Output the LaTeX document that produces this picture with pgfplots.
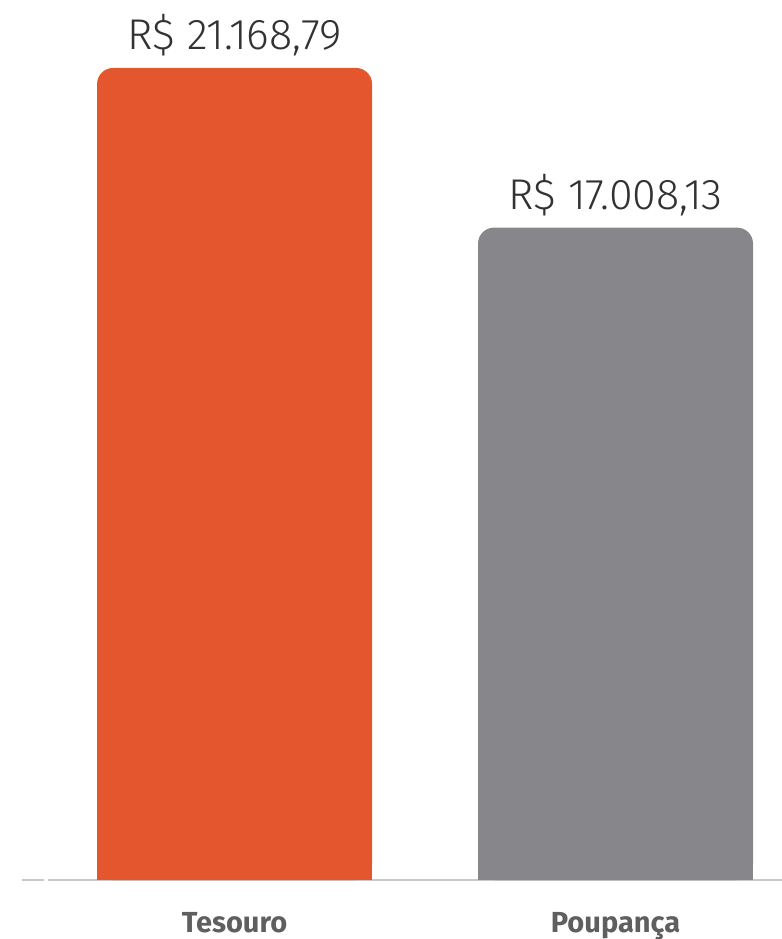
\documentclass[border=0pt]{standalone}
\usepackage{fontspec}
\setmainfont{Fira Sans}
\newfontfamily\lightfont{Fira Sans}[UprightFont=* Light]
\usepackage{pgfplots}
\pgfplotsset{compat=1.18}
\definecolor{tesouro}{RGB}{228,87,46}
\definecolor{poupanca}{RGB}{135,134,139}
\definecolor{valtxt}{RGB}{50,50,50}
\definecolor{cattxt}{RGB}{95,95,95}
\definecolor{baseln}{RGB}{200,200,200}

\begin{document}
\begin{tikzpicture}
  \begin{axis}[
    scale only axis,
    width=380pt, height=440pt,
    xmin=-0.558, xmax=1.437,
    ymin=0, ymax=22941,
    axis x line*=bottom,
    hide y axis,
    axis line style={draw=baseln, line width=1pt},
    xtick={0,1},
    xticklabels={Tesouro, Poupança},
    major tick length=0pt,
    xticklabel style={font=\bfseries\fontsize{14.5}{16}\selectfont, text=cattxt, anchor=base, yshift=-26pt},
    ybar, bar width=137.5pt, bar shift=0pt,
    point meta=explicit symbolic,
    nodes near coords,
    every node near coord/.append style={font=\lightfont\fontsize{21.5}{24}\selectfont, text=valtxt, anchor=base, yshift=9pt},
    clip=false,
  ]
    % rounded bars with the labels
    \addplot[fill=tesouro, draw=none, rounded corners=8pt] coordinates {(0,21168.79) [R\$ 21.168,79]};
    \addplot[fill=poupanca, draw=none, rounded corners=8pt] coordinates {(1,17008.13) [R\$ 17.008,13]};
    % square bottom corners
    \begin{scope}
      \clip (rel axis cs:0,0) rectangle (rel axis cs:1,0.5);
      \addplot[fill=tesouro, draw=none, nodes near coords=] coordinates {(0,21168.79) []};
      \addplot[fill=poupanca, draw=none, nodes near coords=] coordinates {(1,17008.13) []};
    \end{scope}
    \coordinate (bl) at (rel axis cs:0,0);
    \coordinate (tr) at (rel axis cs:1,1);
    \coordinate (g1) at (axis cs:-0.499,0);
    \coordinate (g2) at (axis cs:-0.491,0);
  \end{axis}
  \draw[white, line width=2pt] (g1) -- (g2);
  \pgfresetboundingbox
  \path[use as bounding box] ([xshift=-11pt, yshift=-29.5pt]bl) rectangle (tr);
\end{tikzpicture}
\end{document}
